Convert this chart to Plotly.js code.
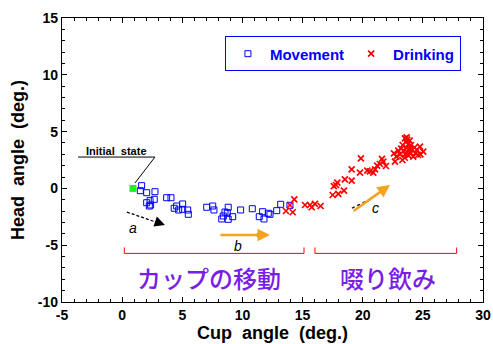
<!DOCTYPE html>
<html><head><meta charset="utf-8">
<script src="https://cdn.plot.ly/plotly-3.0.1.min.js"></script>
<style>html,body{margin:0;padding:0;background:#fff}#chart{width:493px;height:344px}</style>
</head><body><div id="chart"></div>
<script>
var movementX = [1.62,1.51,2.04,2.73,3.70,4.06,2.32,2.67,2.04,2.37,2.26,4.53,5.03,4.33,4.70,5.03,5.45,5.50,7.03,7.53,7.63,8.82,8.74,8.41,8.28,8.82,9.19,9.85,10.82,11.68,12.15,11.40,11.79,12.29,12.85,13.18,13.95,8.55];
var movementY = [0.24,-0.20,-0.38,-0.29,-0.82,-0.82,-1.08,-0.96,-1.26,-1.46,-1.55,-1.55,-1.37,-1.75,-1.90,-1.84,-1.90,-2.28,-1.66,-1.55,-1.90,-1.66,-2.14,-2.43,-2.69,-2.72,-2.49,-1.90,-1.79,-2.05,-2.19,-2.49,-2.69,-2.28,-1.96,-1.40,-1.49,-2.08];
var drinkingX = [14.31,13.95,13.62,14.18,15.20,15.62,16.03,16.50,15.76,17.50,17.97,18.44,17.78,17.89,17.60,18.52,19.08,19.08,19.77,19.85,20.38,20.60,20.88,21.03,21.20,21.43,21.71,21.93,21.60,22.68,22.60,22.96,22.80,23.10,23.20,23.32,23.40,23.51,23.60,23.60,23.70,23.70,23.80,23.80,23.90,23.90,24.00,24.00,24.10,24.20,24.30,24.40,24.60,24.76,25.03,24.50,23.50,23.30,24.80,23.65,23.55];
var drinkingY = [-0.96,-1.46,-1.99,-2.10,-1.46,-1.46,-1.37,-1.55,-1.66,-0.58,-0.49,-0.20,0.30,0.50,0.20,0.80,0.68,1.68,1.38,2.65,1.56,1.50,1.38,1.68,2.00,2.15,2.35,1.97,2.60,2.35,3.09,3.32,2.80,3.00,3.50,3.82,3.30,4.41,4.10,3.60,4.30,3.20,3.90,2.90,3.50,4.20,3.10,3.80,3.40,2.80,3.60,3.10,2.94,3.67,3.23,3.40,2.70,2.50,3.00,4.50,3.00];
var initialX = [0.9];
var initialY = [0.0];
var xTicks = [-5,0,5,10,15,20,25,30];
var yTicks = [-10,-5,0,5,10,15];
var phaseLabels = ["カップの移動","啜り飲み"];

var ORANGE = "#F5A21C", PURPLE = "#781EE6";
var tickFont = {family:"Liberation Sans, Arial, sans-serif", size:14, color:"#000", weight:"bold"};

var traces = [
  {x:movementX, y:movementY, type:"scatter", mode:"markers", name:"Movement",
   marker:{symbol:"square-open", size:6, color:"#0000ff", line:{width:1, color:"#0000ff"}}},
  {x:drinkingX, y:drinkingY, type:"scatter", mode:"markers", name:"Drinking",
   marker:{symbol:"x-thin", size:6, color:"#ff0000", line:{width:1.7, color:"#ff0000"}}},
  {x:initialX, y:initialY, type:"scatter", mode:"markers", showlegend:false,
   marker:{symbol:"square", size:7, color:"#22ee22"}}
];

function axisBase(ticks){
  return {tickvals:ticks, ticktext:ticks.map(String), ticks:"inside", ticklen:5, tickwidth:1.2,
    tickcolor:"#000", showline:true, linecolor:"#000", linewidth:1.2, mirror:"ticks",
    showgrid:false, zeroline:false, tickfont:tickFont,
    minor:{dtick:1, ticks:"inside", ticklen:3, tickcolor:"#000", tickwidth:1}};
}
var xa = axisBase(xTicks); xa.range=[-5,30];
xa.title = {text:"Cup\u00a0\u00a0angle\u00a0\u00a0(deg.)", font:{family:"Liberation Sans, Arial, sans-serif", size:18, weight:"bold", color:"#000"}, standoff:2};
var ya = axisBase(yTicks); ya.range=[-10,15];
ya.title = {text:"Head\u00a0\u00a0angle\u00a0\u00a0(deg.)", font:{family:"Liberation Sans, Arial, sans-serif", size:18, weight:"bold", color:"#000"}, standoff:8};

var shapes = [
  {type:"line", x0:-3.67, y0:2.76, x1:2.73, y1:2.76, line:{color:"#000", width:1}},
  {type:"line", x0:2.73, y0:2.76, x1:1.07, y1:0.48, line:{color:"#000", width:1}},
  {type:"line", x0:0.40, y0:-2.08, x1:3.0, y1:-3.04, line:{color:"#000", width:1.3, dash:"3px,2px"}},
  {type:"line", x0:19.1, y0:-1.75, x1:20.9, y1:-0.79, line:{color:"#000", width:1.3, dash:"dot"}},
  {type:"line", x0:11.2, y0:-4.10, x1:11.6, y1:-4.10, line:{color:"#000", width:3}},
  {type:"line", x0:0.18, y0:-5.72, x1:15.12, y1:-5.72, line:{color:"#ff0000", width:1}},
  {type:"line", x0:0.18, y0:-5.72, x1:0.18, y1:-5.2, line:{color:"#ff0000", width:1}},
  {type:"line", x0:15.12, y0:-5.72, x1:15.12, y1:-5.2, line:{color:"#ff0000", width:1}},
  {type:"line", x0:16.03, y0:-5.72, x1:27.81, y1:-5.72, line:{color:"#ff0000", width:1}},
  {type:"line", x0:16.03, y0:-5.72, x1:16.03, y1:-5.2, line:{color:"#ff0000", width:1}},
  {type:"line", x0:27.81, y0:-5.72, x1:27.81, y1:-5.2, line:{color:"#ff0000", width:1}}
];

var lblFont = {family:"Liberation Sans, Arial, sans-serif", size:14, color:"#000", style:"italic"};
var annotations = [
  {x:-0.43, y:3.29, text:"Initial\u00a0\u00a0state", showarrow:false, font:{family:"Liberation Sans, Arial, sans-serif", size:11, weight:"bold", color:"#000"}},
  {x:3.56, y:-3.22, ax:2.7, ay:-2.9, axref:"x", ayref:"y", xref:"x", yref:"y", text:"", showarrow:true, arrowhead:2, arrowsize:1.6, arrowwidth:1.3, arrowcolor:"#000"},
  {x:0.90, y:-3.49, text:"a", showarrow:false, font:lblFont},
  {x:12.29, y:-4.10, ax:8.05, ay:-4.10, axref:"x", ayref:"y", text:"", showarrow:true, arrowhead:2, arrowsize:1, arrowwidth:2.5, arrowcolor:ORANGE},
  {x:9.63, y:-5.07, text:"b", showarrow:false, font:lblFont},
  {x:22.27, y:0.30, ax:19.11, ay:-2.08, axref:"x", ayref:"y", text:"", showarrow:true, arrowhead:2, arrowsize:1, arrowwidth:2.5, arrowcolor:ORANGE},
  {x:21.1, y:-1.73, text:"c", showarrow:false, font:lblFont},
  {x:7.2, y:-7.8, text:phaseLabels[0], showarrow:false, font:{family:"Noto Sans CJK JP", size:24, weight:500, color:PURPLE}},
  {x:22.1, y:-7.8, text:phaseLabels[1], showarrow:false, font:{family:"Noto Sans CJK JP", size:24, weight:500, color:PURPLE}}
];

var layout = {
  width:493, height:344, margin:{l:62, r:10, t:18, b:42},
  paper_bgcolor:"#fff", plot_bgcolor:"#fff",
  xaxis:xa, yaxis:ya, shapes:shapes, annotations:annotations,
  showlegend:true,
  legend:{x:0.387, y:0.935, xanchor:"left", yanchor:"top", orientation:"h",
    bgcolor:"#fff", bordercolor:"#0000ff", borderwidth:1,
    font:{family:"Liberation Sans, Arial, sans-serif", size:15, weight:"bold", color:"#0000ff"},
    itemwidth:34, tracegroupgap:0}
};
Plotly.newPlot("chart", traces, layout, {displayModeBar:false, staticPlot:true});
</script></body></html>
